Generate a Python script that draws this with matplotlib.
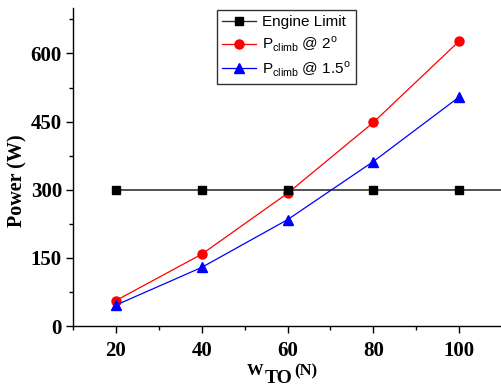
import matplotlib.pyplot as plt
from matplotlib.ticker import MultipleLocator

# data
w_to = [20, 40, 60, 80, 100]
engine_limit = [300, 300, 300, 300, 300]
p_climb_2 = [56, 158, 292, 448, 627]
p_climb_15 = [46, 129, 234, 362, 504]

plt.rcParams['mathtext.fontset'] = 'custom'
plt.rcParams['mathtext.rm'] = 'Liberation Sans'
plt.rcParams['mathtext.bf'] = 'Liberation Serif:bold'

fig = plt.figure(figsize=(5.02, 3.89), dpi=100)
ax = fig.add_axes([73 / 502, 1 - 326 / 389, 1 - 73 / 502, 318 / 389])

ax.set_xlim(10, 110)
ax.set_ylim(0, 700)

# engine limit: markers at the data points, line running on to the right edge
ax.hlines(engine_limit[0], w_to[0], ax.get_xlim()[1], color='#333333', lw=1.2, zorder=2)
ax.plot(w_to, engine_limit, ls='none', marker='s', color='black', ms=5.5, zorder=3)
ax.plot([], [], color='#333333', lw=1.0, marker='s', mfc='black', mec='black', ms=5.5,
        label='Engine Limit')

ax.plot(w_to, p_climb_2, color='red', lw=0.9, marker='o', ms=6.5,
        label=r'P$_{\mathrm{climb}}$ @ 2$^{\mathrm{o}}$')
ax.plot(w_to, p_climb_15, color='blue', lw=0.9, marker='^', ms=7,
        label=r'P$_{\mathrm{climb}}$ @ 1.5$^{\mathrm{o}}$')

for side in ['top', 'right']:
    ax.spines[side].set_visible(False)
for side in ['left', 'bottom']:
    ax.spines[side].set_linewidth(1.0)

ax.xaxis.set_major_locator(MultipleLocator(20))
ax.xaxis.set_minor_locator(MultipleLocator(10))
ax.yaxis.set_major_locator(MultipleLocator(150))
ax.yaxis.set_minor_locator(MultipleLocator(75))
ax.set_xticks(w_to)
ax.tick_params(which='major', length=5, width=1, direction='out')
ax.tick_params(which='minor', length=3, width=1, direction='out')
for lab in ax.get_xticklabels() + ax.get_yticklabels():
    lab.set_fontfamily('Liberation Serif')
    lab.set_fontweight('bold')
    lab.set_fontsize(15)
ax.tick_params(axis='x', pad=6)
ax.tick_params(axis='y', pad=3)

ax.set_ylabel('Power (W)', family='Liberation Serif', weight='bold', fontsize=14.5)
ax.yaxis.set_label_coords(-0.105, 0.456)

# x label: small W, large lowered TO, then (N)
serif = dict(family='Liberation Serif', weight='bold')
fig.text(247 / 502, 1 - 375 / 389, 'W', fontsize=12, **serif)
fig.text(265 / 502, 1 - 383 / 389, 'TO', fontsize=14, **serif)
fig.text(294 / 502, 1 - 375 / 389, '(N)', fontsize=12, **serif)

leg = ax.legend(loc='upper left', bbox_to_anchor=(0.336, 0.994), borderaxespad=0,
                prop={'family': 'Liberation Sans', 'size': 11}, frameon=True,
                fancybox=False, edgecolor='black', handlelength=2.2,
                labelspacing=0.35, borderpad=0.35, handletextpad=0.4)
leg.get_frame().set_linewidth(1.0)

fig.savefig('out.png', dpi=100)
